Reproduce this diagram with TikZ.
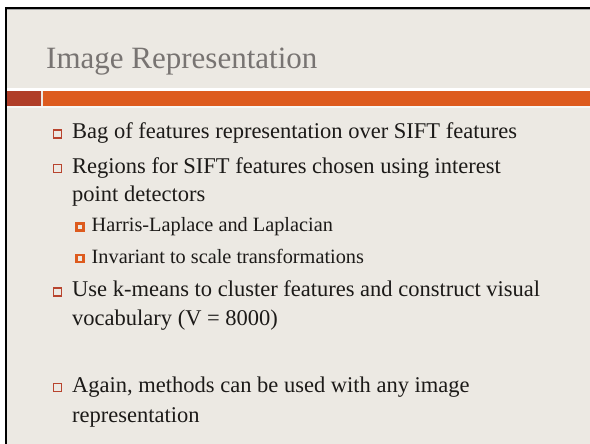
\documentclass[tikz,border=0pt]{standalone}
\usepackage{fontspec}
\setmainfont{Liberation Serif}
\definecolor{slidebg}{RGB}{236,233,227}
\definecolor{darkred}{RGB}{176,62,40}
\definecolor{barorange}{RGB}{221,91,30}
\definecolor{titlegray}{RGB}{120,116,114}
\definecolor{bodytext}{RGB}{28,26,24}
\definecolor{bulletred}{RGB}{184,68,46}
\tikzset{
  titletext/.style={anchor=base west, inner sep=0pt, text=titlegray, font=\fontsize{31}{36}\selectfont},
  bodyline/.style={anchor=base west, inner sep=0pt, text=bodytext, font=\fontsize{22.5}{27}\selectfont},
  subline/.style={anchor=base west, inner sep=0pt, text=bodytext, font=\fontsize{20.3}{24}\selectfont},
  bulletone/.style={draw=bulletred, line width=1.1pt, fill=slidebg},
  bullettwo/.style={draw=barorange, line width=2.6pt, fill=slidebg}
}
\begin{document}
\begin{tikzpicture}[x=1pt,y=-1pt]
\useasboundingbox (0,0) rectangle (590,444);
\fill[white] (-5,-5) rectangle (600,450);
\fill[slidebg] (5,7) rectangle (600,450);
\fill[black] (5,7) rectangle (600,9);
\fill[black] (5,7) rectangle (7,450);
\fill[gray!70] (7,9) rectangle (600,10);
% bars
\fill[white] (7,88) rectangle (600,90.7);
\fill[darkred] (7,90.7) rectangle (41,106);
\fill[barorange] (43,90.7) rectangle (600,106);
\fill[white!60!slidebg] (7,106) rectangle (600,108);
% title
\node[titletext] (title) at (46,69) {Image Representation};
% level 1 bullets
\draw[bulletone] (53.5,130) rectangle (61.5,138);
\node[bodyline] (l1) at (72,139) {Bag of features representation over SIFT features};
\draw[bulletone] (53.5,164.5) rectangle (61.5,172.5);
\node[bodyline] (l2) at (72,173.3) {Regions for SIFT features chosen using interest};
\node[bodyline] (l3) at (72,201) {point detectors};
\draw[bullettwo] (76.3,223.3) rectangle (83.7,230.3);
\node[subline] (l4) at (91.5,231.7) {Harris-Laplace and Laplacian};
\draw[bullettwo] (76.3,254.9) rectangle (83.7,261.9);
\node[subline] (l5) at (91.5,263.3) {Invariant to scale transformations};
\draw[bulletone] (53.5,288) rectangle (61.5,296);
\node[bodyline] (l6) at (72,296.7) {Use k-means to cluster features and construct visual};
\node[bodyline] (l7) at (72,325) {vocabulary (V = 8000)};
\draw[bulletone] (53.5,383.5) rectangle (61.5,391.5);
\node[bodyline] (l8) at (72,392) {Again, methods can be used with any image};
\node[bodyline] (l9) at (72,422) {representation};
\end{tikzpicture}
\end{document}
